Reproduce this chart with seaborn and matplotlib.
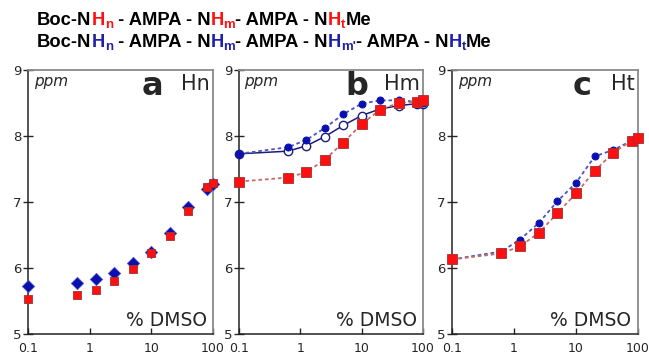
import matplotlib
matplotlib.use("Agg")
import matplotlib.pyplot as plt
import seaborn as sns

# % DMSO titration points (log axis)
dmso = [0.1, 0.625, 1.25, 2.5, 5, 10, 20, 40, 80, 100]

# panel a: Hn
hn_blue = [5.73, 5.77, 5.83, 5.93, 6.07, 6.25, 6.53, 6.92, 7.19, 7.28]
hn_red = [5.53, 5.59, 5.66, 5.80, 5.99, 6.23, 6.49, 6.86, 7.22, 7.29]

# panel b: Hm (blue = Hm, open = Hm', red = Hm of the shorter peptide)
hm_blue = [7.73, 7.83, 7.94, 8.12, 8.33, 8.49, 8.54, 8.54, 8.52, 8.50]
hm_open = [7.73, 7.77, 7.85, 7.99, 8.16, 8.31, 8.41, 8.46, 8.49, 8.49]
hm_red = [7.31, 7.37, 7.45, 7.64, 7.90, 8.18, 8.40, 8.50, 8.52, 8.54]

# panel c: Ht
ht_blue = [6.13, 6.25, 6.43, 6.68, 7.01, 7.29, 7.69, 7.79, 7.93, 7.95]
ht_red = [6.13, 6.22, 6.33, 6.53, 6.83, 7.13, 7.47, 7.75, 7.93, 7.97]

panel_letters = ["a", "b", "c"]
panel_names = ["Hn", "Hm", "Ht"]

BLUE = "#0a10b0"
RED = "#ff1010"
NAVY = "#1c1c7a"

sns.set_style("ticks")
plt.rcParams["font.family"] = ["DejaVu Sans"]

W, H = 649, 356
fig = plt.figure(figsize=(W / 100, H / 100), dpi=100)


def add_ax(l, r, t=70, b=334):
    return fig.add_axes([l / W, 1 - b / H, (r - l) / W, (b - t) / H])


axes = [add_ax(28, 213), add_ax(239, 423), add_ax(452, 638)]

dot = (0, (2, 1.6))

# panel a - markers only
ax = axes[0]
sns.scatterplot(x=dmso, y=hn_blue, ax=ax, marker="D", s=40, color=BLUE,
                edgecolor="#5050c0", linewidth=0.5, zorder=3, clip_on=False)
sns.scatterplot(x=dmso, y=hn_red, ax=ax, marker="s", s=40, color=RED,
                edgecolor="#a03030", linewidth=0.6, zorder=4, clip_on=False)

# panel b
ax = axes[1]
sns.lineplot(x=dmso, y=hm_open, ax=ax, color=NAVY, lw=1.1, marker="o",
             markersize=6, markerfacecolor="white", markeredgecolor=NAVY,
             markeredgewidth=1.0, zorder=3, clip_on=False)
sns.lineplot(x=dmso, y=hm_blue, ax=ax, color="#4a55c0", lw=1.3, linestyle=dot,
             marker="o", markersize=5, markerfacecolor=BLUE,
             markeredgecolor=BLUE, zorder=4, clip_on=False)
sns.lineplot(x=dmso, y=hm_red, ax=ax, color="#c86a6a", lw=1.3, linestyle=dot,
             marker="s", markersize=6.5, markerfacecolor=RED,
             markeredgecolor="#a03030", markeredgewidth=0.6, zorder=5,
             clip_on=False)

# panel c
ax = axes[2]
sns.lineplot(x=dmso, y=ht_blue, ax=ax, color="#4a55c0", lw=1.3, linestyle=dot,
             marker="o", markersize=5, markerfacecolor=BLUE,
             markeredgecolor=BLUE, zorder=4, clip_on=False)
sns.lineplot(x=dmso, y=ht_red, ax=ax, color="#c86a6a", lw=1.3, linestyle=dot,
             marker="s", markersize=6.5, markerfacecolor=RED,
             markeredgecolor="#a03030", markeredgewidth=0.6, zorder=5,
             clip_on=False)

letter_x = [0.73, 0.70, 0.75]
for ax, letter, name, lx in zip(axes, panel_letters, panel_names, letter_x):
    ax.set_xscale("log")
    ax.set_xlim(0.1, 100)
    ax.set_ylim(5, 9)
    ax.set_xticks([0.1, 1, 10, 100])
    ax.set_xticklabels(["0.1", "1", "10", "100"])
    ax.set_yticks([5, 6, 7, 8, 9])
    ax.minorticks_off()
    ax.tick_params(axis="y", direction="inout", length=7, width=1, labelsize=9.5, pad=1)
    ax.tick_params(axis="x", direction="in", length=4, width=1, labelsize=9, pad=6)
    for side in ["left", "bottom"]:
        ax.spines[side].set_color("#222222")
        ax.spines[side].set_linewidth(1.1)
    for side in ["top", "right"]:
        ax.spines[side].set_visible(True)
        ax.spines[side].set_color("#8a8a8a")
        ax.spines[side].set_linewidth(1.3)
    ax.text(0.03, 0.985, "ppm", transform=ax.transAxes, style="italic",
            fontsize=11, ha="left", va="top")
    ax.text(lx, 0.995, letter, transform=ax.transAxes, weight="bold",
            fontsize=23, ha="right", va="top")
    ax.text(0.985, 0.985, name, transform=ax.transAxes, fontsize=15,
            ha="right", va="top")
    ax.text(0.965, 0.015, "% DMSO", transform=ax.transAxes, fontsize=13.5,
            ha="right", va="bottom")


# two-line coloured peptide header
def rich_line(parts, x, y):
    r = fig.canvas.get_renderer()
    for s, c, sub in parts:
        fs = 9.5 if sub else 13.2
        kw = dict(color=c, fontsize=fs, weight="bold",
                  family=["Liberation Sans"], va="baseline")
        yy = y + (3.5 if sub else 0)
        fig.text(x / W, 1 - yy / H, s, **kw)
        probe = fig.text(0, 0, s + "|", **kw)
        bar = fig.text(0, 0, "|", **kw)
        w = probe.get_window_extent(r).width - bar.get_window_extent(r).width
        probe.remove()
        bar.remove()
        x += w


K = "black"
line1 = [("Boc-N", K, False), ("H", RED, False), ("n", RED, True),
         (" - AMPA - N", K, False), ("H", RED, False), ("m", RED, True),
         ("- AMPA - N", K, False), ("H", RED, False), ("t", RED, True),
         ("Me", K, False)]
B2 = "#2020a8"
line2 = [("Boc-N", K, False), ("H", B2, False), ("n", B2, True),
         (" - AMPA - N", K, False), ("H", B2, False), ("m", B2, True),
         ("- AMPA - N", K, False), ("H", B2, False), ("m'", B2, True),
         ("- AMPA - N", K, False), ("H", B2, False), ("t", B2, True),
         ("Me", K, False)]
rich_line(line1, 37, 25)
rich_line(line2, 37, 47)

fig.savefig("out.png", dpi=100)
